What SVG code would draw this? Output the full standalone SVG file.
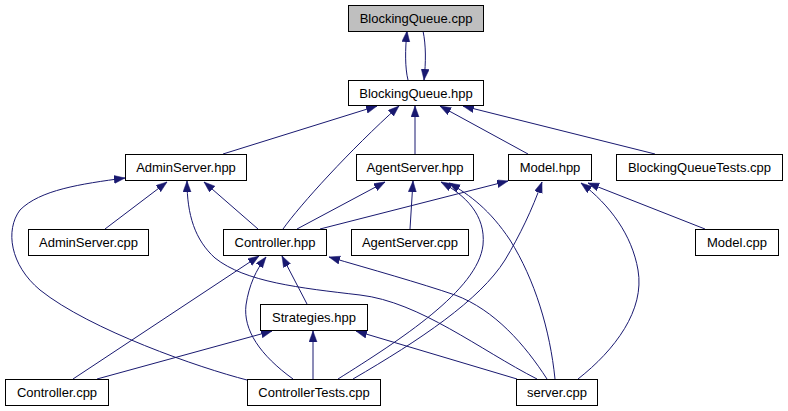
<svg xmlns="http://www.w3.org/2000/svg" width="788" height="411" viewBox="0 0 788 411">
<style>
.n rect{fill:#ffffff;stroke:#000000;stroke-width:1}
.n.hl rect{fill:#bfbfbf}
.n text{font-family:"Liberation Sans",Arial,sans-serif;font-size:13px;fill:#000000;text-anchor:middle}
.e path{fill:none;stroke:#191970;stroke-width:1;marker-end:url(#ah)}
</style>
<defs>
<marker id="ah" markerUnits="userSpaceOnUse" markerWidth="12" markerHeight="9" refX="11" refY="4" orient="auto">
<path d="M0,0 L11,4 L0,8 z" fill="#191970" stroke="#191970" stroke-width="0.5"/>
</marker>
</defs>
<rect x="0" y="0" width="788" height="411" fill="#ffffff"/>
<g id="edges" class="e">
<path d="M408,80 C405,68 405,50 407,31"/>
<path d="M423,31 C426,45 426,62 424,80"/>
<path d="M223,154 L377,106"/>
<path d="M283,229 C300,205 350,150 399,106"/>
<path d="M415,154 L415,106"/>
<path d="M528,154 L440,106"/>
<path d="M655,154 L463,106"/>
<path d="M105,229 L167,182"/>
<path d="M258,229 L204,182"/>
<path d="M247,380 C200,368 90,330 40,290 C10,265 5,230 20,210 C40,190 80,184 125,178"/>
<path d="M537,379 C480,350 420,302 360,295 C300,288 245,282 215,258 C195,240 187,215 187,181"/>
<path d="M297,229 L385,182"/>
<path d="M410,229 L413,181"/>
<path d="M338,379 C400,340 478,290 483,245 C486,215 465,195 441,182"/>
<path d="M555,379 C550,330 535,280 510,240 C490,210 470,195 449,183"/>
<path d="M320,229 L508,181"/>
<path d="M705,229 L588,183"/>
<path d="M353,379 C420,340 480,300 505,260 C520,235 532,210 542,182"/>
<path d="M578,379 C615,350 645,310 638,270 C632,235 610,205 581,183"/>
<path d="M307,304 L282,256"/>
<path d="M73,379 L259,256"/>
<path d="M293,379 C260,355 243,330 246,305 C249,285 256,270 266,257"/>
<path d="M547,379 C525,345 495,310 455,295 C420,283 370,269 329,257"/>
<path d="M97,379 L272,331"/>
<path d="M313,379 L313,331"/>
<path d="M517,379 L356,331"/>
</g>
<g id="n_bq_cpp" class="n hl"><rect x="348.5" y="5.5" width="135" height="26"/><text x="416" y="23">BlockingQueue.cpp</text></g>
<g id="n_bq_hpp" class="n"><rect x="348.5" y="80.5" width="135" height="25"/><text x="416" y="97.5">BlockingQueue.hpp</text></g>
<g id="n_admin_hpp" class="n"><rect x="125.5" y="154.5" width="121" height="26"/><text x="186" y="172">AdminServer.hpp</text></g>
<g id="n_agent_hpp" class="n"><rect x="356.5" y="154.5" width="117" height="26"/><text x="415" y="172">AgentServer.hpp</text></g>
<g id="n_model_hpp" class="n"><rect x="508.5" y="154.5" width="83" height="26"/><text x="550" y="172">Model.hpp</text></g>
<g id="n_bqtests_cpp" class="n"><rect x="616.5" y="154.5" width="166" height="26"/><text x="699.5" y="172">BlockingQueueTests.cpp</text></g>
<g id="n_admin_cpp" class="n"><rect x="28.5" y="229.5" width="120" height="26"/><text x="88.5" y="247">AdminServer.cpp</text></g>
<g id="n_controller_hpp" class="n"><rect x="223.5" y="229.5" width="103" height="26"/><text x="275" y="247">Controller.hpp</text></g>
<g id="n_agent_cpp" class="n"><rect x="351.5" y="229.5" width="117" height="26"/><text x="410" y="247">AgentServer.cpp</text></g>
<g id="n_model_cpp" class="n"><rect x="695.5" y="229.5" width="83" height="26"/><text x="737" y="247">Model.cpp</text></g>
<g id="n_strategies_hpp" class="n"><rect x="260.5" y="304.5" width="107" height="26"/><text x="314" y="322">Strategies.hpp</text></g>
<g id="n_controller_cpp" class="n"><rect x="5.5" y="379.5" width="103" height="26"/><text x="57" y="397">Controller.cpp</text></g>
<g id="n_controllertests_cpp" class="n"><rect x="247.5" y="379.5" width="133" height="26"/><text x="314" y="397">ControllerTests.cpp</text></g>
<g id="n_server_cpp" class="n"><rect x="516.5" y="379.5" width="81" height="26"/><text x="557" y="397">server.cpp</text></g>
</svg>
